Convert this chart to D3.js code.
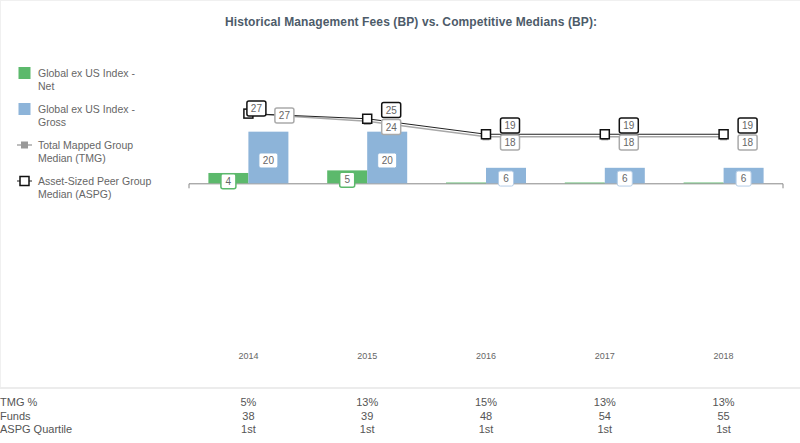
<!DOCTYPE html>
<html>
<head>
<meta charset="utf-8">
<script src="https://cdn.jsdelivr.net/npm/d3@7"></script>
<style>
  body { margin: 0; background: #fff; }
  svg { display: block; font-family: "Liberation Sans", Arial, sans-serif; }
</style>
</head>
<body>
<div class="container"></div>
<script>
var years = ["2014", "2015", "2016", "2017", "2018"];
var netValues = [4, 5, 0.3, 0.3, 0.3];
var grossValues = [20, 20, 6, 6, 6];
var tmgValues = [27, 24, 18, 18, 18];
var aspgValues = [27, 25, 19, 19, 19];
var tmgPct = ["5%", "13%", "15%", "13%", "13%"];
var funds = ["38", "39", "48", "54", "55"];
var aspgQuartile = ["1st", "1st", "1st", "1st", "1st"];
var legendItems = [
    ["Global ex US Index -", "Net"],
    ["Global ex US Index -", "Gross"],
    ["Total Mapped Group", "Median (TMG)"],
    ["Asset-Sized Peer Group", "Median (ASPG)"]
];

var svgWidth = 800;
var svgHeight = 443;
var green = "#5cb96c";
var blue = "#8db4d9";

var svg = d3.select(".container")
    .append("svg")
    .attr("width", svgWidth)
    .attr("height", svgHeight);

// light frame + separator
svg.append("rect")
    .attr("x", 0.5).attr("y", 0.5)
    .attr("width", svgWidth + 5).attr("height", 387)
    .attr("fill", "none").attr("stroke", "#f0f0f0");
svg.append("line")
    .attr("x1", 0).attr("x2", svgWidth)
    .attr("y1", 388).attr("y2", 388)
    .attr("stroke", "#ececec").attr("stroke-width", 2);

svg.append("text")
    .attr("x", 411).attr("y", 26)
    .attr("text-anchor", "middle")
    .attr("font-size", 12).attr("font-weight", "bold")
    .attr("fill", "#4d5b69")
    .attr("textLength", 372)
    .text("Historical Management Fees (BP) vs. Competitive Medians (BP):");

var xBand = d3.scaleBand()
    .domain(years)
    .range([189, 783]);

var yScale = d3.scaleLinear()
    .domain([0, 27])
    .range([183.3, 113.6]);

var cx = d => xBand(d) + xBand.bandwidth() / 2;
var barW = 40;

// axis baseline
var axis = d3.axisBottom(xBand).tickSize(0).tickFormat("");
var axisG = svg.append("g")
    .attr("transform", `translate(0, ${yScale(0)})`)
    .call(axis);
axisG.select(".domain").attr("stroke", "#888").attr("d", "M189,5V0.5H783V5");

// bars
svg.selectAll(".net")
    .data(years)
    .enter()
    .append("rect")
    .attr("x", d => cx(d) - barW)
    .attr("width", barW)
    .attr("y", (d, i) => yScale(netValues[i]))
    .attr("height", (d, i) => yScale(0) - yScale(netValues[i]))
    .attr("fill", green);

svg.selectAll(".gross")
    .data(years)
    .enter()
    .append("rect")
    .attr("x", d => cx(d))
    .attr("width", barW)
    .attr("y", (d, i) => yScale(grossValues[i]))
    .attr("height", (d, i) => yScale(0) - yScale(grossValues[i]))
    .attr("fill", blue);

function labelBox(x, y, txt, stroke, sw) {
    var g = svg.append("g").attr("transform", `translate(${x}, ${y})`);
    var w = txt.length > 1 ? 19 : 15;
    g.append("rect")
        .attr("x", -w / 2).attr("y", -7.5)
        .attr("width", w).attr("height", 15)
        .attr("rx", 2)
        .attr("fill", "#fff")
        .attr("stroke", stroke)
        .attr("stroke-width", sw);
    g.append("text")
        .attr("y", 3.5)
        .attr("text-anchor", "middle")
        .attr("font-size", 10)
        .attr("fill", "#666")
        .text(txt);
}

// lines
var line = d3.line();
var tmgPts = years.map((d, i) => [cx(d), yScale(tmgValues[i])]);
var aspgPts = years.map((d, i) => [cx(d), yScale(aspgValues[i])]);

svg.append("path")
    .attr("d", line(tmgPts))
    .attr("fill", "none").attr("stroke", "#a8a8a8").attr("stroke-width", 1.5);
svg.append("path")
    .attr("d", line(aspgPts))
    .attr("fill", "none").attr("stroke", "#222").attr("stroke-width", 1);

svg.selectAll(".tmgm")
    .data(tmgPts)
    .enter()
    .append("rect")
    .attr("x", d => d[0] - 3.5).attr("y", d => d[1] - 3.5)
    .attr("width", 7).attr("height", 7)
    .attr("fill", "#999");

svg.selectAll(".aspgm")
    .data(aspgPts)
    .enter()
    .append("rect")
    .attr("x", d => d[0] - 4.5).attr("y", d => d[1] - 4.5)
    .attr("width", 9).attr("height", 9)
    .attr("fill", "#fff").attr("stroke", "#111").attr("stroke-width", 1.5);

// bar labels
years.forEach(function(d, i) {
    if (netValues[i] >= 1) {
        var mid = (yScale(netValues[i]) + yScale(0)) / 2 + 3;
        labelBox(cx(d) - barW / 2, mid, String(netValues[i]), green, 1.5);
    }
    var midG = (yScale(grossValues[i]) + yScale(0)) / 2 + 3;
    labelBox(cx(d) + barW / 2, midG, String(grossValues[i]), grossValues[i] < 10 ? "#b5cde6" : blue, 1);
});

// line labels (side by side when equal, stacked otherwise)
years.forEach(function(d, i) {
    var ya = yScale(aspgValues[i]);
    var yt = yScale(tmgValues[i]);
    if (aspgValues[i] === tmgValues[i]) {
        labelBox(cx(d) + 8, ya - 5, String(aspgValues[i]), "#111", 1.5);
        labelBox(cx(d) + 36, yt + 2, String(tmgValues[i]), "#aaa", 1.5);
    } else {
        var m = (ya + yt) / 2;
        labelBox(cx(d) + 24, m - 10, String(aspgValues[i]), "#111", 1.5);
        labelBox(cx(d) + 24, m + 7, String(tmgValues[i]), "#aaa", 1.5);
    }
});

// year labels
svg.selectAll(".year")
    .data(years)
    .enter()
    .append("text")
    .attr("x", d => cx(d))
    .attr("y", 359)
    .attr("text-anchor", "middle")
    .attr("font-size", 9)
    .attr("fill", "#666")
    .text(d => d);

// legend
var legend = svg.append("g");
legendItems.forEach(function(item, i) {
    var y0 = 73 + i * 36;
    if (i < 2) {
        legend.append("rect")
            .attr("x", 18.5).attr("y", y0 - 6)
            .attr("width", 12).attr("height", 12)
            .attr("fill", i === 0 ? green : blue);
    } else {
        legend.append("line")
            .attr("x1", 17).attr("x2", 32)
            .attr("y1", y0).attr("y2", y0)
            .attr("stroke", i === 2 ? "#a8a8a8" : "#222")
            .attr("stroke-width", i === 2 ? 1.5 : 1);
        if (i === 2) {
            legend.append("rect")
                .attr("x", 21).attr("y", y0 - 3.5)
                .attr("width", 7).attr("height", 7)
                .attr("fill", "#999");
        } else {
            legend.append("rect")
                .attr("x", 20).attr("y", y0 - 4.5)
                .attr("width", 9).attr("height", 9)
                .attr("fill", "#fff").attr("stroke", "#111").attr("stroke-width", 1.5);
        }
    }
    item.forEach(function(t, j) {
        legend.append("text")
            .attr("x", 38)
            .attr("y", y0 + 4 + j * 12.5)
            .attr("font-size", 10.5)
            .attr("fill", "#666")
            .text(t);
    });
});

// bottom table
var rows = [["TMG %", tmgPct], ["Funds", funds], ["ASPG Quartile", aspgQuartile]];
rows.forEach(function(r, k) {
    var y = 406 + k * 13.5;
    svg.append("text")
        .attr("x", 0).attr("y", y)
        .attr("font-size", 11)
        .attr("fill", "#555")
        .text(r[0]);
    svg.selectAll(".row" + k)
        .data(r[1])
        .enter()
        .append("text")
        .attr("x", (d, i) => cx(years[i]))
        .attr("y", y)
        .attr("text-anchor", "middle")
        .attr("font-size", 11)
        .attr("fill", "#555")
        .text(d => d);
});
</script>
</body>
</html>
